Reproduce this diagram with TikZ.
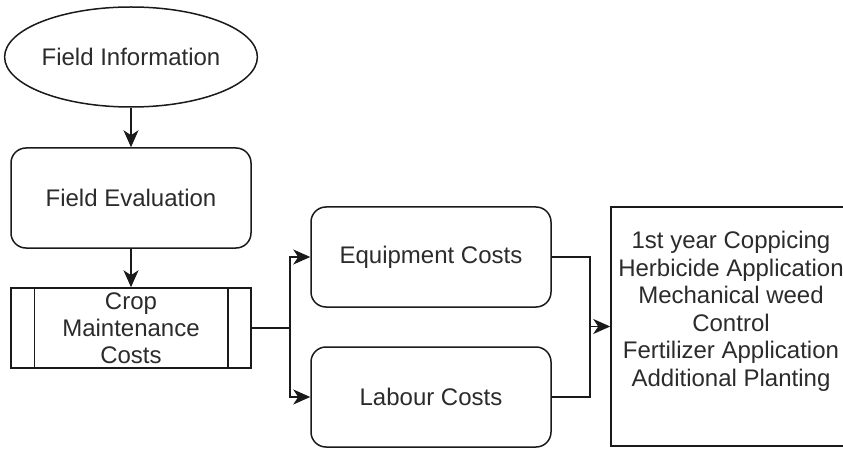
\documentclass[tikz,border=0pt]{standalone}
\usepackage{fontspec}
\setmainfont{Liberation Sans}
\usetikzlibrary{shapes.geometric,arrows.meta}
\definecolor{ink}{HTML}{1A1A1A}
\definecolor{txt}{HTML}{2B2B2B}
\tikzset{
  base/.style={draw=ink, line width=1.5pt, inner sep=0pt, text=txt,
    font=\fontsize{24}{27}\selectfont, align=center},
  oval/.style={base, ellipse, minimum width=242pt, minimum height=100pt},
  roundbox/.style={base, rectangle, rounded corners=15pt, minimum width=240pt, minimum height=100pt},
  procbox/.style={base, rectangle, minimum width=240pt, minimum height=80pt},
  plainbox/.style={base, rectangle, minimum width=240pt, minimum height=239pt},
  link/.style={draw=ink, line width=1.5pt},
  arrow/.style={link, -{Stealth[length=17pt,width=15pt,inset=5pt]}}
}
\begin{document}
\begin{tikzpicture}[x=1pt,y=-1pt]
  \useasboundingbox (0,0) rectangle (843,449);

  \node[oval] (info) at (131,57) {Field Information};
  \node[roundbox] (eval) at (131,198) {Field Evaluation};
  \node[procbox] (crop) at (131,328) {Crop\\Maintenance\\Costs};
  % side bars of the predefined-process box
  \draw[link] ([xshift=24pt]crop.north west) -- ([xshift=24pt]crop.south west);
  \draw[link] ([xshift=-24pt]crop.north east) -- ([xshift=-24pt]crop.south east);

  \node[roundbox] (equip) at (431,257) {Equipment Costs};
  \node[roundbox] (labour) at (431,397) {Labour Costs};

  \node[plainbox] (tasks) at (731,326.5) {};
  \node[text=txt, font=\fontsize{24}{27.5}\selectfont, align=center, inner sep=0pt]
    (tasklist) at (731,311.5)
    {1st year Coppicing\\Herbicide Application\\Mechanical weed\\Control\\Fertilizer Application\\Additional Planting};

  \coordinate (split) at (290,328);
  \coordinate (join) at (590,326.5);

  \draw[arrow] (info) -- (eval);
  \draw[arrow] (eval) -- (crop);
  \draw[link] (crop.east) -- (split);
  \draw[arrow] (split) |- (equip.west);
  \draw[arrow] (split) |- (labour.west);
  \draw[link] (equip.east) -| (join);
  \draw[link] (labour.east) -| (join);
  \draw[arrow] (join) -- (tasks.west);
\end{tikzpicture}
\end{document}
